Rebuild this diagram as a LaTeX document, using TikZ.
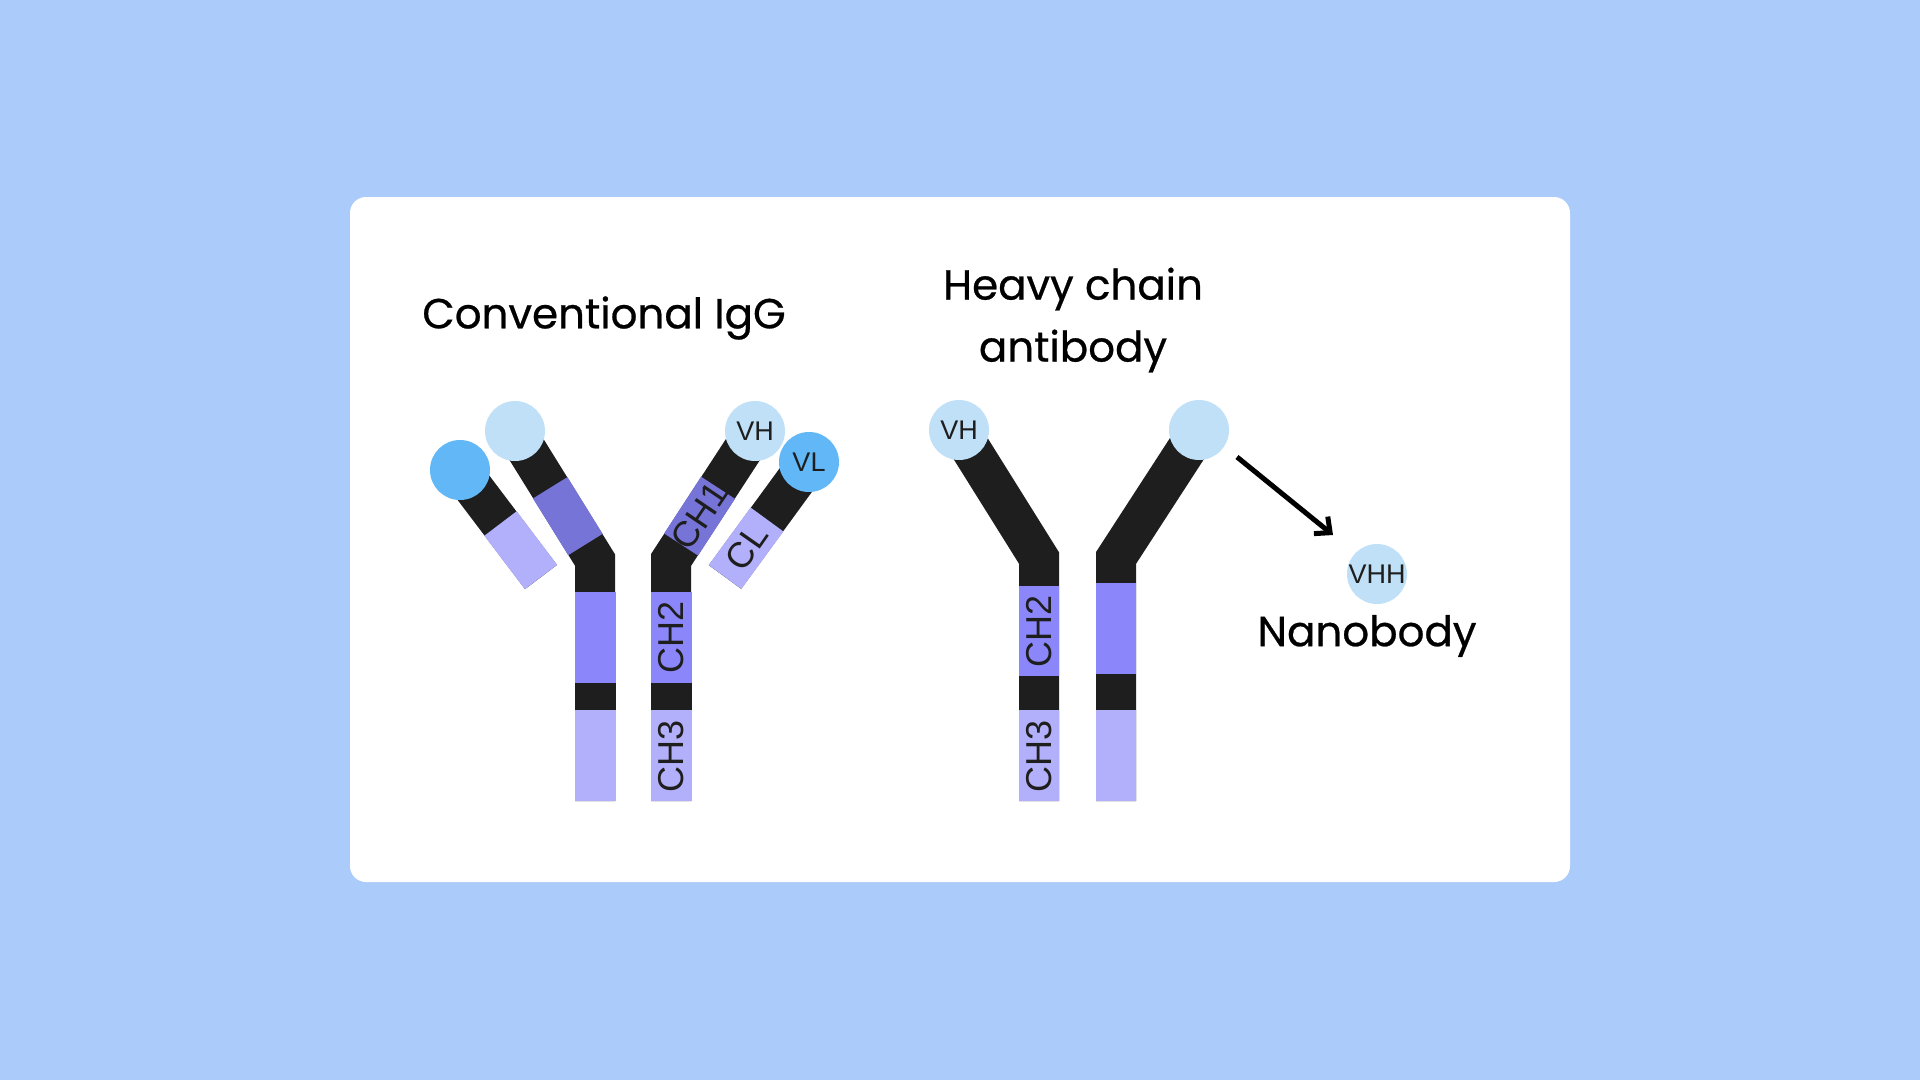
\documentclass[tikz,border=0pt]{standalone}
\usepackage{fontspec}
\setmainfont{Poppins}
\newfontfamily\ttl[FakeBold=0.6]{Poppins}
\newfontfamily\lab{Liberation Sans}
\usetikzlibrary{calc,arrows.meta}
\definecolor{bg}{HTML}{ABCBFA}
\definecolor{blk}{HTML}{1E1E1E}
\definecolor{pur}{HTML}{8B87FB}
\definecolor{dpur}{HTML}{7774D8}
\definecolor{lpur}{HTML}{B3B0FB}
\definecolor{lblue}{HTML}{C0E0F8}
\definecolor{blue}{HTML}{62B8F6}
\begin{document}
\begin{tikzpicture}[x=1pt,y=-1pt,
  arm/.style={line width=40pt,line cap=butt,line join=miter,blk},
  seg/.style={line width=40.5pt,line cap=butt},
  dom/.style={circle,minimum size=60pt,inner sep=0pt,font=\lab\fontsize{27}{27}\selectfont,text=blk},
  lbl/.style={font=\lab\fontsize{36}{36}\selectfont,text=blk,inner sep=0pt},
  title/.style={font=\ttl\fontsize{42}{62}\selectfont,align=center,text=black}]
\useasboundingbox (0,0) rectangle (1920,1080);
\fill[bg] (0,0) rectangle (1920,1080);
\fill[white,rounded corners=16pt] (350,197) rectangle (1570,882);

% ---------- Conventional IgG ----------
\coordinate (lhC) at (515,431); \coordinate (lhE) at (595,560);
\coordinate (rhC) at (755,431); \coordinate (rhE) at (671,560);
\coordinate (llC) at (460,470); \coordinate (llE) at (541,577);
\coordinate (rlC) at (809,462); \coordinate (rlE) at (725,577);
\draw[arm] (lhC) -- (lhE) -- (595,801);
\draw[arm] (rhC) -- (rhE) -- (671,801);
\draw[seg,dpur] ($(lhC)!0.44!(lhE)$) -- ($(lhC)!0.88!(lhE)$);
\draw[seg,dpur] ($(rhC)!0.44!(rhE)$) -- ($(rhC)!0.88!(rhE)$);
\foreach \x in {575,651}{
  \fill[pur] (\x,592) rectangle (\x+41,683);
  \fill[blk] (\x,683) rectangle (\x+41,710);
  \fill[lpur] (\x,710) rectangle (\x+41,801);
}
\draw[arm] (llC) -- (llE);
\draw[arm] (rlC) -- (rlE);
\draw[seg,lpur] ($(llC)!0.5!(llE)$) -- (llE);
\draw[seg,lpur] ($(rlC)!0.5!(rlE)$) -- (rlE);
\node[dom,fill=lblue] (lvh) at (lhC) {};
\node[dom,fill=blue] (lvl) at (llC) {};
\node[dom,fill=lblue] (rvh) at (rhC) {VH};
\node[dom,fill=blue] (rvl) at (rlC) {VL};
\node[lbl,rotate=56] (ch1) at ($(rhC)!0.66!(rhE)$) {CH1};
\node[lbl,rotate=55] (cl) at ($(rlC)!0.74!(rlE)$) {CL};
\node[lbl,rotate=90] (ch2a) at (671.5,637) {CH2};
\node[lbl,rotate=90] (ch3a) at (671.5,756) {CH3};
\node[title] (t1) at (604,318) {Conventional IgG};

% ---------- Heavy chain antibody ----------
\coordinate (hlC) at (959,430); \coordinate (hlE) at (1039,558);
\coordinate (hrC) at (1199,430); \coordinate (hrE) at (1116,558);
\draw[arm] (hlC) -- (hlE) -- (1039,801);
\draw[arm] (hrC) -- (hrE) -- (1116,801);
\fill[pur] (1019,586) rectangle (1059,676);
\fill[blk] (1019,676) rectangle (1059,710);
\fill[lpur] (1019,710) rectangle (1059,801);
\fill[pur] (1096,583) rectangle (1136,674);
\fill[blk] (1096,674) rectangle (1136,710);
\fill[lpur] (1096,710) rectangle (1136,801);
\node[dom,fill=lblue] (hvh) at (hlC) {VH};
\node[dom,fill=lblue] (hvh2) at (hrC) {};
\node[lbl,rotate=90] (ch2b) at (1039,631) {CH2};
\node[lbl,rotate=90] (ch3b) at (1039,756) {CH3};
\node[title] (t2) at (1073,320) {Heavy chain\\antibody};

% ---------- Nanobody ----------
\node[dom,fill=lblue] (vhh) at (1377,574) {VHH};
\node[title] (t3) at (1367,636) {Nanobody};
\coordinate (a0) at (1237,457);
\draw[line width=5pt,black,-{Straight Barb[length=12pt,width=22pt]}] (a0) -- (1333,535);
\end{tikzpicture}
\end{document}
